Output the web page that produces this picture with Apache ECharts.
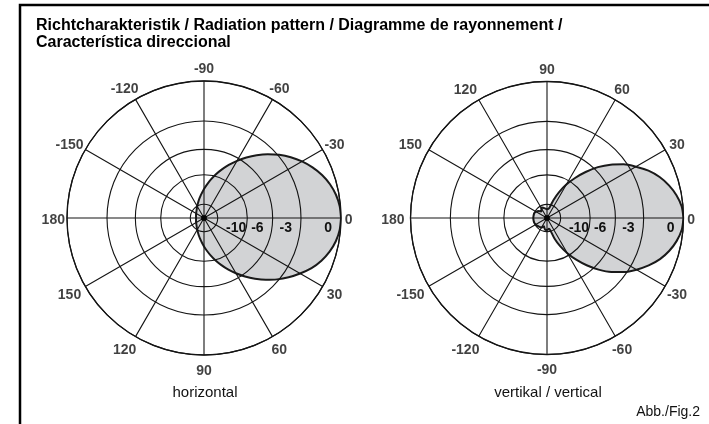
<!DOCTYPE html>
<html>
<head>
<meta charset="utf-8">
<script src="https://cdn.jsdelivr.net/npm/echarts@6/dist/echarts.min.js"></script>
<style>
html,body{margin:0;padding:0;background:#fff;}
#chart{width:709px;height:424px;}
</style>
</head>
<body>
<div id="chart"></div>
<script>
// ---- data (relative field strength, 1 = 0 dB), angles every 5 degrees ----
const angles = [0,5,10,15,20,25,30,35,40,45,50,55,60,65,70,75,80,85,90,95,100,105,110,115,120,125,130,135,140,145,150,155,160,165,170,175,180,
                185,190,195,200,205,210,215,220,225,230,235,240,245,250,255,260,265,270,275,280,285,290,295,300,305,310,315,320,325,330,335,340,345,350,355,360];
const horizontalGain = [1.0,0.994,0.977,0.949,0.912,0.866,0.81,0.754,0.697,0.638,0.579,0.522,0.466,0.414,0.364,0.319,0.277,0.24,0.208,0.18,0.157,0.138,0.122,0.109,0.098,0.09,0.083,0.077,0.073,0.069,0.066,0.064,0.062,0.06,0.059,0.0587,0.0585,
                        0.0587,0.059,0.06,0.062,0.064,0.066,0.069,0.073,0.077,0.083,0.09,0.099,0.11,0.123,0.14,0.159,0.182,0.212,0.245,0.284,0.329,0.376,0.428,0.482,0.539,0.598,0.658,0.717,0.773,0.826,0.874,0.917,0.952,0.978,0.994,1.0];
const verticalGain = [1.0,0.99,0.963,0.925,0.878,0.82,0.752,0.685,0.608,0.527,0.44,0.358,0.283,0.21,0.143,0.088,0.07,0.066,0.065,0.066,0.07,0.075,0.08,0.085,0.085,0.07,0.062,0.07,0.08,0.087,0.092,0.097,0.1,0.1,0.1,0.1,0.1,
                      0.1,0.1,0.1,0.1,0.098,0.095,0.092,0.09,0.087,0.085,0.083,0.08,0.072,0.065,0.075,0.085,0.088,0.087,0.085,0.08,0.092,0.16,0.228,0.298,0.373,0.452,0.535,0.615,0.69,0.757,0.822,0.881,0.928,0.965,0.991,1.0];
const ringValues = [0.1, 0.316, 0.501, 0.708, 1.0];
const ringLabelValues = [0.316, 0.501, 0.708, 1.0];
const ringLabels = ['-10', '-6', '-3', '0'];
const angleTicks = [0,30,60,90,120,150,180,210,240,270,300,330];
const centerPoint = [[0, 0]];
const titleText = 'Richtcharakteristik / Radiation pattern / Diagramme de rayonnement /\nCaracterística direccional';
const captionLeft = 'horizontal';
const captionRight = 'vertikal / vertical';
const figLabel = 'Abb./Fig.2';

const FONT = '"Liberation Sans", Arial, Helvetica, sans-serif';
const LINE = '#141414';
const LABEL_RADIUS = 1.1; // angle labels sit just outside the outer ring

function pairs(gain){ return gain.map((g,i)=>[g, angles[i]]); }
function angleFmt(v){ if (v === 360) return ''; return String(v > 180 ? v - 360 : v); }
function angleLabel(v, idx){
  const t = angleFmt(v);
  let k = 'a';
  if (v === 0) k = 'z';
  else if (v === 180) k = idx === 1 ? 'l' : 'a';
  else if (v >= 120 && v <= 240) k = idx === 1 ? 'm' : 'l';
  return '{' + k + '|' + t + '}';
}
function ringFmt(v){
  let best = 0, d = 9;
  ringLabelValues.forEach((rv,i)=>{ if (Math.abs(rv - v) < d){ d = Math.abs(rv - v); best = i; } });
  return best === 0 ? '{n|' + ringLabels[best] + '}' : '{w|' + ringLabels[best] + '}';
}

function makeAngle(idx, clockwise){
  return {
    polarIndex: idx, type: 'value', min: 0, max: 360, interval: 30,
    startAngle: 0, clockwise: clockwise, z: 10,
    axisLine: {show: true, lineStyle: {color: LINE, width: 1.3}},
    axisTick: {show: false},
    splitLine: {show: true, lineStyle: {color: LINE, width: 1.1}},
    axisLabel: {show: false}
  };
}
function makeRadius(idx){
  return {
    polarIndex: idx, type: 'value', min: 0, max: 1, z: 10,
    axisLine: {show: false},
    axisTick: {show: false, customValues: ringValues},
    splitLine: {show: true, lineStyle: {color: LINE, width: 1.1}},
    axisLabel: {
      customValues: ringLabelValues, formatter: ringFmt,
      align: 'right', verticalAlign: 'middle', margin: -10,
      fontSize: 14, fontWeight: 'bold', color: '#111', fontFamily: FONT,
      rich: {
        n: {fontSize: 14, fontWeight: 'bold', color: '#111', fontFamily: FONT, padding: [0, 1, 0, 0]},
        w: {fontSize: 14, fontWeight: 'bold', color: '#111', fontFamily: FONT, padding: [0, 9, 0, 0]}
      }
    }
  };
}
function makeSeries(idx, gain){
  return {
    type: 'line', coordinateSystem: 'polar', polarIndex: idx,
    data: pairs(gain), smooth: 0.25, symbol: 'none', z: 1,
    lineStyle: {color: '#1a1a1a', width: 2},
    areaStyle: {color: '#d2d3d5', opacity: 1},
    silent: true, animation: false
  };
}
function makeCenter(idx){
  return {
    type: 'scatter', coordinateSystem: 'polar', polarIndex: idx,
    data: centerPoint, symbol: 'circle', symbolSize: 6, z: 11,
    itemStyle: {color: '#000'}, silent: true, animation: false
  };
}
function makeAngleLabels(idx){
  const st = {fontSize: 14, fontWeight: 'bold', color: '#111', fontFamily: FONT};
  return {
    type: 'scatter', coordinateSystem: 'polar', polarIndex: idx,
    data: angleTicks.map(a => [LABEL_RADIUS, a]),
    symbolSize: 1, z: 12,
    clip: false, silent: true, animation: false,
    itemStyle: {color: 'rgba(0,0,0,0)'},
    label: {
      show: true, position: 'inside', align: 'center', verticalAlign: 'middle',
      fontSize: 14, fontWeight: 'bold', color: '#111', fontFamily: FONT,
      formatter: p => angleLabel(p.value[1], idx),
      rich: {
        a: Object.assign({padding: [4, 0, 0, 0]}, st),
        z: Object.assign({padding: [4, 12, 0, 0]}, st),
        l: Object.assign({padding: [4, 8, 0, 0]}, st),
        m: Object.assign({padding: [4, 13, 0, 0]}, st)
      }
    },
    labelLayout: {hideOverlap: false}
  };
}

const chart = echarts.init(document.getElementById('chart'), null, {renderer: 'canvas'});
chart.setOption({
  animation: false,
  backgroundColor: '#fff',
  title: [
    {text: titleText, left: 36, top: 17, padding: 0, textStyle: {fontSize: 16, fontWeight: 'bold', color: '#000', fontFamily: FONT, lineHeight: 17}},
    {text: captionLeft, left: 205, top: 385, padding: 0, textAlign: 'center', textStyle: {fontSize: 15, fontWeight: 'normal', color: '#111', fontFamily: FONT}},
    {text: captionRight, left: 548, top: 385, padding: 0, textAlign: 'center', textStyle: {fontSize: 15, fontWeight: 'normal', color: '#111', fontFamily: FONT}},
    {text: figLabel, left: 700, top: 405, padding: 0, textAlign: 'right', textStyle: {fontSize: 14, fontWeight: 'normal', color: '#111', fontFamily: FONT}}
  ],
  graphic: [{
    type: 'polyline', shape: {points: [[20, 424], [20, 5], [709, 5]]},
    style: {stroke: '#000', lineWidth: 2.5, fill: null}, silent: true
  }],
  polar: [
    {center: [204, 218], radius: 137},
    {center: [547, 218], radius: 136.5}
  ],
  angleAxis: [makeAngle(0, true), makeAngle(1, false)],
  radiusAxis: [makeRadius(0), makeRadius(1)],
  series: [
    makeSeries(0, horizontalGain), makeSeries(1, verticalGain),
    makeCenter(0), makeCenter(1),
    makeAngleLabels(0), makeAngleLabels(1)
  ]
});
</script>
</body>
</html>
